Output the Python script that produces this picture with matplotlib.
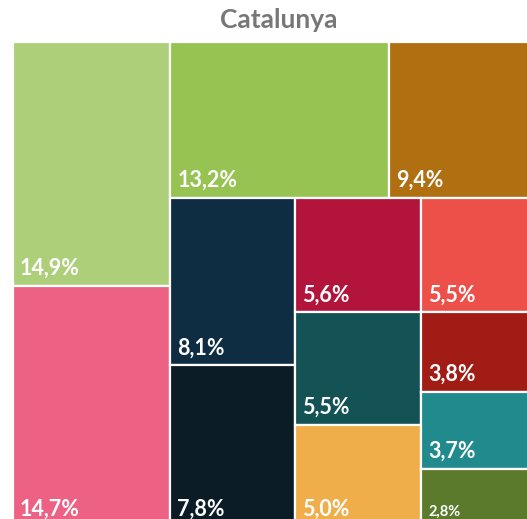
import matplotlib.pyplot as plt
from matplotlib.patches import Rectangle

# Treemap data (share of total, %)
labels = ['14,9%', '14,7%', '13,2%', '9,4%', '8,1%', '7,8%', '5,6%',
          '5,5%', '5,0%', '5,5%', '3,8%', '3,7%', '2,8%']
values = [14.9, 14.7, 13.2, 9.4, 8.1, 7.8, 5.6, 5.5, 5.0, 5.5, 3.8, 3.7, 2.8]
colors = ['#aecf7a', '#ec6184', '#96c352', '#b06f11', '#0f2d42', '#0b1c26',
          '#b3143c', '#135255', '#efae49', '#ec5049', '#a01c14', '#208a8c',
          '#5b7a2b']

# strips carved from the remaining area: 'v' = column on the left, 'h' = row on top
strips = [('v', [0, 1]), ('h', [2, 3]), ('v', [4, 5]), ('v', [6, 7, 8]),
          ('v', [9, 10, 11, 12])]

W, H = 532.0, 485.0  # plot area in pixels (partly cropped by the figure)


def layout(values, strips, W, H):
    rects = {}
    x, y, w, h = 0.0, 0.0, W, H
    remaining = sum(values)
    for d, idx in strips:
        s = sum(values[i] for i in idx)
        if d == 'v':
            sw = w * s / remaining
            yy = y
            for i in idx:
                hh = h * values[i] / s
                rects[i] = (x, yy, sw, hh)
                yy += hh
            x += sw
            w -= sw
        else:
            sh = h * s / remaining
            xx = x
            for i in idx:
                ww = w * values[i] / s
                rects[i] = (xx, y, ww, sh)
                xx += ww
            y += sh
            h -= sh
        remaining -= s
    return rects


fig = plt.figure(figsize=(5.27, 5.19), dpi=100)
ax = fig.add_axes([13 / 527, -8 / 519, W / 527, H / 519])
ax.set_xlim(0, W)
ax.set_ylim(H, 0)
ax.axis('off')

rects = layout(values, strips, W, H)
for i, (rx, ry, rw, rh) in rects.items():
    ax.add_patch(Rectangle((rx, ry), rw, rh, facecolor=colors[i],
                           edgecolor='white', linewidth=1.6))
    fs = 10.5 if values[i] < 3 else 15.5
    ax.text(rx + 7, ry + rh - 11, labels[i], color='white', fontsize=fs,
            fontweight='bold', family='Lato', ha='left', va='baseline')

fig.text(0.5 * (13 + 545) / 527, 1 - 20 / 519, 'Catalunya', color='#777777',
         fontsize=19, fontweight='bold', family='Lato', ha='center', va='center')

fig.savefig('out.png', dpi=100)
